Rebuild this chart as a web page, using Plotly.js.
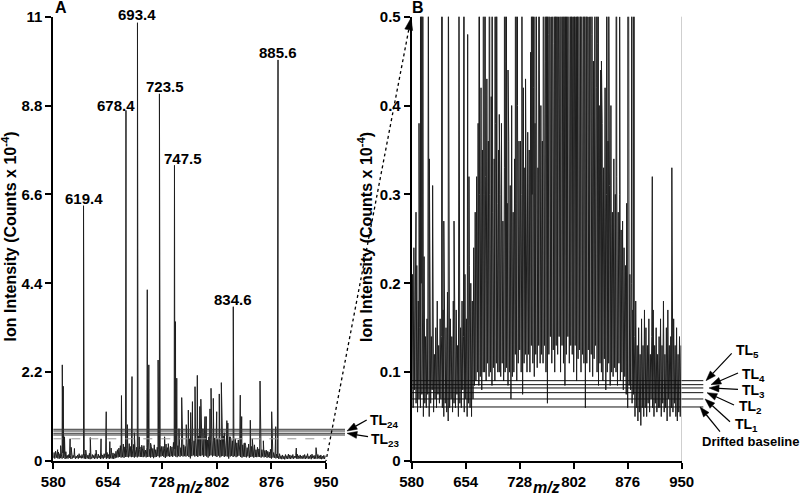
<!DOCTYPE html>
<html><head><meta charset="utf-8">
<script src="https://cdn.plot.ly/plotly-3.0.1.min.js"></script>
<style>html,body{margin:0;padding:0;background:#fff}#chart{width:800px;height:496px}</style>
</head><body><div id="chart"></div>
<script>
// ---- data ----
// noise envelope per 2-m/z bin starting at m/z 580 (min and max of the trace in each bin)
const noiseLo = [
0.07,0.06,0.08,0.065,0.055,0.07,0.06,0.075,0.05,0.065,
0.06,0.075,0.05,0.065,0.08,0.055,0.07,0.06,0.075,0.065,
0.07,0.06,0.05,0.065,0.055,0.045,0.06,0.07,0.055,0.065,
0.06,0.075,0.05,0.065,0.06,0.08,0.055,0.07,0.05,0.065,
0.06,0.05,0.07,0.085,0.09,0.1,0.085,0.095,0.08,0.1,
0.1,0.09,0.11,0.095,0.1,0.085,0.105,0.09,0.11,0.1,
0.1,0.095,0.11,0.09,0.1,0.105,0.085,0.1,0.07,0.095,
0.1,0.12,0.09,0.11,0.125,0.1,0.075,0.11,0.12,0.1,
0.12,0.1,0.13,0.11,0.095,0.12,0.105,0.13,0.11,0.12,
0.11,0.13,0.1,0.065,0.12,0.14,0.11,0.125,0.1,0.13,
0.12,0.14,0.1,0.13,0.11,0.085,0.12,0.14,0.11,0.13,
0.12,0.1,0.13,0.09,0.115,0.125,0.1,0.12,0.11,0.06,
0.11,0.125,0.1,0.12,0.095,0.115,0.13,0.1,0.085,0.11,
0.1,0.09,0.115,0.08,0.1,0.11,0.085,0.1,0.095,0.105,
0.1,0.085,0.11,0.09,0.1,0.08,0.095,0.075,0.06,0.085,
0.08,0.065,0.075,0.05,0.06,0.045,0.055,0.04,0.06,0.05,
0.06,0.05,0.065,0.055,0.07,0.06,0.05,0.065,0.055,0.06,
0.06,0.05,0.065,0.055,0.06,0.045,0.07,0.05,0.06,0.055,0.065,0.05,0.045,0.055,0.05];
const noiseHi = [
0.21,0.24,0.16,0.22,0.18,0.15,0.2,0.17,0.23,0.14,
0.16,0.13,0.2,0.14,0.17,0.12,0.15,0.18,0.13,0.16,
0.14,0.17,0.13,0.15,0.19,0.12,0.16,0.14,0.18,0.13,
0.17,0.13,0.2,0.15,0.18,0.14,0.21,0.16,0.19,0.22,
0.2,0.18,0.24,0.28,0.32,0.38,0.3,0.42,0.35,0.3,
0.32,0.27,0.36,0.3,0.41,0.28,0.34,0.38,0.29,0.35,
0.3,0.38,0.27,0.33,0.45,0.29,0.36,0.31,0.4,0.28,
0.34,0.29,0.4,0.31,0.36,0.3,0.42,0.33,0.28,0.37,
0.35,0.46,0.3,0.42,0.38,0.5,0.33,0.44,0.4,0.36,
0.52,0.45,0.55,0.48,0.6,0.5,0.56,0.47,0.62,0.53,
0.58,0.5,0.63,0.55,0.52,0.6,0.54,0.66,0.5,0.57,
0.6,0.55,0.65,0.52,0.58,0.62,0.5,0.57,0.54,0.6,
0.55,0.5,0.6,0.48,0.45,0.52,0.42,0.47,0.4,0.44,
0.38,0.33,0.42,0.3,0.36,0.31,0.4,0.28,0.34,0.3,
0.32,0.28,0.3,0.26,0.27,0.24,0.22,0.25,0.2,0.21,
0.2,0.17,0.14,0.18,0.13,0.15,0.12,0.16,0.13,0.17,
0.15,0.13,0.16,0.12,0.14,0.17,0.13,0.15,0.12,0.14,
0.16,0.13,0.18,0.12,0.15,0.17,0.13,0.14,0.12,0.16,0.13,0.15,0.12,0.14,0.13];
const noiseStart = 580, noiseStep = 2;

// peaks (m/z as drawn, intensity in counts x 10^-4)
const peakMz = [585.9,590,592.2,593.5,595.2,602.8,604.2,608.7,621,624,630.2,638,644.8,651.8,656.7,658.5,
672.5,678.6,680.5,683,686.8,690,694.2,696.5,700,707.5,709.6,712,716,722.2,724,727,731,736,
744.4,745.8,747.5,750.5,754.2,760.4,763.2,766.4,768.8,772.3,775.4,778.8,780.2,783,785.8,787.5,
792.6,794,797.1,801.7,805.2,808,812,815.5,816.8,820,824.2,827,833.7,835.6,840,847.3,850,853,
860.5,865,874.6,876.3,881.8,884.9,909.7,936.5];
const peakInt = [0.28,0.38,2.38,1.85,0.6,0.55,0.34,0.31,6.32,0.27,0.58,0.27,0.55,1.22,0.48,0.32,
1.62,8.68,0.9,0.43,2.09,0.7,10.85,0.6,0.39,4.24,2.38,0.44,0.39,2.5,9.09,0.36,0.6,0.43,
7.32,3.45,2.05,0.8,1.57,0.9,1.26,1.2,1.47,1.84,2.12,1.35,1.53,0.8,1.1,1.1,
1.29,1.8,1.55,1.22,1.66,1.94,0.7,1.0,0.94,0.6,3.82,0.55,1.63,1.1,0.45,1.01,0.55,0.27,
1.98,0.5,0.29,1.22,0.85,9.93,0.32,0.33];

const labelText = ['619.4','678.4','693.4','723.5','747.5','834.6','885.6'];
const labelMz   = [621,678.6,694.2,724,744.4,824.2,884.9];

const tlA = [0.785,0.743,0.686,0.644];
const tlAText = ['TL<sub>24</sub>','TL<sub>23</sub>'];
const tlB = [0.0904,0.0859,0.0822,0.0769,0.0698,0.0608];
const tlBText = ['TL<sub>5</sub>','TL<sub>4</sub>','TL<sub>3</sub>','TL<sub>2</sub>','TL<sub>1</sub>','Drifted baseline'];
const zoomLevel = 0.55;

const xTicks = [580,654,728,802,876,950];
const yTicksA = [0,2.2,4.4,6.6,8.8,11];
const yTicksB = [0,0.1,0.2,0.3,0.4,0.5];

// ---- build spectrum trace ----
const pts = [];
noiseLo.forEach((v,i)=>{ pts.push([noiseStart+noiseStep*i, v]); pts.push([noiseStart+noiseStep*i+1, noiseHi[i]]); });
peakMz.forEach((m,i)=>pts.push([m, peakInt[i]]));
pts.sort((a,b)=>a[0]-b[0]);
const sx = pts.map(p=>p[0]), sy = pts.map(p=>p[1]);

// ---- layout helpers ----
const W=800,H=496;
const PX = p=>p/W, PY = p=>(H-p)/H;
const dA=[PX(53.3),PX(326)], dB=[PX(411.7),PX(681.7)], dY=[PY(461),PY(16.7)];
const yPix = (v,max)=>H*(1-dY[0]) - (v/max)*H*(dY[1]-dY[0]);
const FAM='Liberation Sans, Arial, Helvetica, sans-serif';
const F=(s)=>({family:FAM,size:s,color:'#000',weight:700});

const line = {color:'#1e1e1e', width:1};
const traces = [
  {x:sx, y:sy, xaxis:'x', yaxis:'y', type:'scatter', mode:'lines', line:line, hoverinfo:'skip'},
  {x:sx, y:sy, xaxis:'x2', yaxis:'y2', type:'scatter', mode:'lines', line:line, hoverinfo:'skip'}
];

const axX = (dom, anchor)=>({domain:dom, anchor:anchor, range:[580,950], tickvals:xTicks, ticktext:xTicks.map(String),
  showline:true, linecolor:'#000', linewidth:2, ticks:'outside', ticklen:6, tickwidth:2, tickcolor:'#000',
  showgrid:false, zeroline:false, tickfont:F(15), fixedrange:true});
const axY = (dom, anchor, rng, tv)=>({domain:dom, anchor:anchor, range:rng, tickvals:tv, ticktext:tv.map(String),
  showline:true, linecolor:'#000', linewidth:2, ticks:'outside', ticklen:6, tickwidth:2, tickcolor:'#000',
  showgrid:false, zeroline:false, tickfont:F(15), fixedrange:true});

// arrow drawn as a line plus a filled triangular head (pixel positions -> paper)
function arrowShapes(tip, tail, headLen, headHalf, lineStyle){
  const dx=tail[0]-tip[0], dy=tail[1]-tip[1], L=Math.hypot(dx,dy), ux=dx/L, uy=dy/L;
  const bx=tip[0]+ux*headLen, by=tip[1]+uy*headLen;
  const p1=[bx-uy*headHalf, by+ux*headHalf], p2=[bx+uy*headHalf, by-ux*headHalf];
  const out=[];
  if(lineStyle) out.push({type:'line', xref:'paper', yref:'paper', x0:PX(bx), y0:PY(by), x1:PX(tail[0]), y1:PY(tail[1]), line:lineStyle});
  out.push({type:'path', xref:'paper', yref:'paper',
    path:'M'+PX(tip[0])+','+PY(tip[1])+'L'+PX(p1[0])+','+PY(p1[1])+'L'+PX(p2[0])+','+PY(p2[1])+'Z',
    fillcolor:'#000', line:{color:'#000', width:0.5}});
  return out;
}

let shapes = [];
tlA.forEach(v=>shapes.push({type:'line', xref:'paper', yref:'y', x0:dA[0], x1:PX(345), y0:v, y1:v, line:{color:'#333', width:1}}));
tlB.forEach(v=>shapes.push({type:'line', xref:'paper', yref:'y2', x0:dB[0], x1:PX(703.3), y0:v, y1:v, line:{color:'#111', width:1}}));
shapes.push({type:'line', xref:'x', yref:'y', x0:580, x1:950, y0:zoomLevel, y1:zoomLevel, line:{color:'#999', width:1, dash:'dash'}});
shapes.push({type:'line', xref:'x2', yref:'paper', x0:950, x1:950, y0:dY[0], y1:dY[1], line:{color:'#aaa', width:1}});
// dotted connector from panel A corner to panel B corner with arrowhead
shapes = shapes.concat(arrowShapes([411,18],[326,461],12,4,{color:'#000', width:1.3, dash:'dot'}));
// TL arrows panel A
const solid={color:'#000', width:1.2};
shapes = shapes.concat(arrowShapes([347,yPix(tlA[1],11)],[366.7,420],10,3.5,solid));
shapes = shapes.concat(arrowShapes([347,yPix(tlA[2],11)],[368,436.7],10,3.5,solid));
// TL arrows panel B
const tipX=[706,711,709,707,705,700];
const tails=[[731.7,353.3],[738,373],[738,389.3],[734,405],[730,421.7],[720,431.7]];
tlB.forEach((v,i)=>{ shapes = shapes.concat(arrowShapes([tipX[i], yPix(v,0.5)], tails[i], 10, 3.5, solid)); });

const ann = [];
// peak labels
const lxs=[0,-10,0,6,9,0,0], lys=[7,5,8,7,7,7,7];
labelText.forEach((t,i)=>{
  const k = peakMz.indexOf(labelMz[i]);
  ann.push({xref:'x', yref:'y', x:labelMz[i], y:peakInt[k], text:t, showarrow:false, font:F(15),
    xanchor:'center', yanchor:'middle', xshift:lxs[i], yshift:lys[i]});
});
// panel letters
ann.push({xref:'paper', yref:'paper', x:PX(61), y:PY(8), text:'A', showarrow:false, font:F(16), xanchor:'center', yanchor:'middle'});
ann.push({xref:'paper', yref:'paper', x:PX(417.5), y:PY(8), text:'B', showarrow:false, font:F(16), xanchor:'center', yanchor:'middle'});
// axis titles
const yTitle='Ion Intensity (Counts x 10<sup>-4</sup>)';
ann.push({xref:'paper', yref:'paper', x:PX(9.5), y:PY(237), text:yTitle, textangle:-90, showarrow:false, font:F(16), xanchor:'center', yanchor:'middle'});
ann.push({xref:'paper', yref:'paper', x:PX(365), y:PY(237), text:yTitle, textangle:-90, showarrow:false, font:F(16), xanchor:'center', yanchor:'middle'});
ann.push({xref:'paper', yref:'paper', x:(dA[0]+dA[1])/2, y:PY(487.5), text:'<i>m/z</i>', showarrow:false, font:F(16), xanchor:'center', yanchor:'middle'});
ann.push({xref:'paper', yref:'paper', x:(dB[0]+dB[1])/2, y:PY(487.5), text:'<i>m/z</i>', showarrow:false, font:F(16), xanchor:'center', yanchor:'middle'});
// TL labels
ann.push({xref:'paper', yref:'paper', x:PX(368), y:PY(421), text:tlAText[0], showarrow:false, font:F(14), xanchor:'left', yanchor:'middle'});
ann.push({xref:'paper', yref:'paper', x:PX(369), y:PY(440), text:tlAText[1], showarrow:false, font:F(14), xanchor:'left', yanchor:'middle'});
const labX=[734,740,740,737,733,750.5], labY=[351,374.5,390.5,407,425,441.5];
tlBText.forEach((t,i)=>ann.push({xref:'paper', yref:'paper', x:PX(labX[i]), y:PY(labY[i]), text:t, showarrow:false,
  font:F(i===5?13:14), xanchor:i===5?'center':'left', yanchor:'middle'}));

const layout = {
  width:W, height:H, margin:{l:0,r:0,t:0,b:0}, paper_bgcolor:'#fff', plot_bgcolor:'rgba(0,0,0,0)',
  showlegend:false, font:{family:FAM},
  xaxis:axX(dA,'y'), yaxis:axY(dY,'x',[0,11],yTicksA),
  xaxis2:axX(dB,'y2'), yaxis2:axY(dY,'x2',[0,0.5],yTicksB),
  shapes:shapes, annotations:ann
};
Plotly.newPlot('chart', traces, layout, {staticPlot:true, displayModeBar:false});
</script></body></html>
